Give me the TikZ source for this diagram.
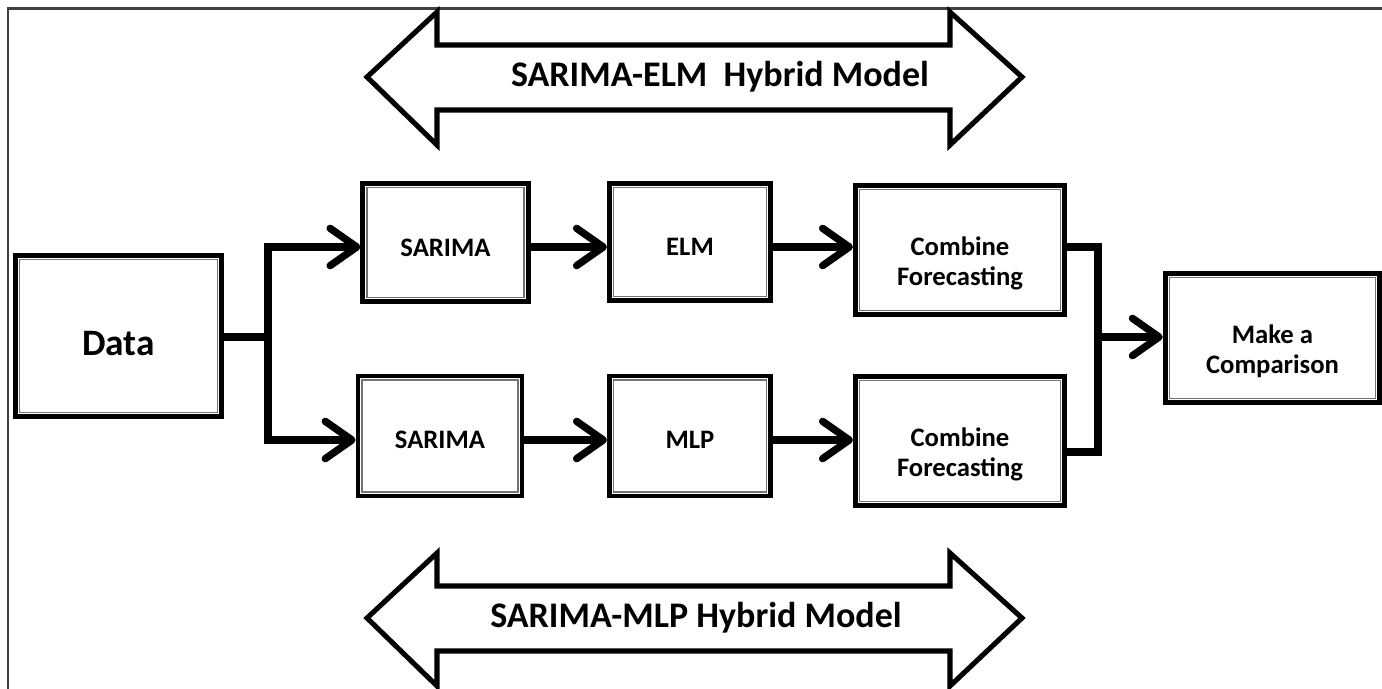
\documentclass[tikz,border=0pt]{standalone}
\usepackage{fontspec}
\setmainfont{Carlito}
\usetikzlibrary{arrows.meta}
\begin{document}
\begin{tikzpicture}[x=0.75pt,y=-0.75pt,
  box/.style={draw, line width=3.6pt, inner sep=0pt},
  lbl/.style={align=center, inner sep=0pt, font=\bfseries\fontsize{20}{23}\selectfont},
  conn/.style={line width=5.5pt, line cap=rect, miter limit=10},
  arr/.style={conn, -{Straight Barb[length=20pt,width=28pt,round]}},
  hyb/.style={line width=3.8pt, line join=miter, miter limit=10},
  hybtxt/.style={font=\bfseries\fontsize{27}{30}\selectfont},
  inner/.style={line width=1pt, draw=black!55}]
\useasboundingbox (0,0) rectangle (1382,689);
% frame
\draw[line width=1.6pt, draw=black!75] (8,689) -- (8,8.5) -- (1382,8.5);

% boxes
\node[box, minimum width=155pt, minimum height=121pt] (data) at (118.5,336) {};
\node[box, minimum width=124pt, minimum height=89pt] (s1) at (445.5,242.5) {};
\node[box, minimum width=121pt, minimum height=88pt] (elm) at (690,242) {};
\node[box, minimum width=157pt, minimum height=97pt] (c1) at (960,250) {};
\node[box, minimum width=123pt, minimum height=90pt] (s2) at (440,436) {};
\node[box, minimum width=121pt, minimum height=90pt] (mlp) at (690,436) {};
\node[box, minimum width=157pt, minimum height=97pt] (c2) at (960,441) {};
\node[box, minimum width=161pt, minimum height=97pt] (cmp) at (1272.5,338) {};

\foreach \n in {data,s1,elm,c1,s2,mlp,c2,cmp}{
  \draw[inner] ([shift={(6.5,6.5)}]\n.north west) rectangle ([shift={(-6.5,-6.5)}]\n.south east);
}

% labels
\node[lbl, font=\bfseries\fontsize{28}{32}\selectfont] (data-t) at ([yshift=-6pt]data.center) {Data};
\node[lbl] (s1-t) at ([yshift=-4pt]s1.center) {SARIMA};
\node[lbl] (elm-t) at ([yshift=-4pt]elm.center) {ELM};
\node[lbl] (c1-t) at ([yshift=-10pt]c1.center) {Combine\\Forecasting};
\node[lbl] (s2-t) at ([yshift=-3pt]s2.center) {SARIMA};
\node[lbl] (mlp-t) at ([yshift=-3pt]mlp.center) {MLP};
\node[lbl] (c2-t) at ([yshift=-10pt]c2.center) {Combine\\Forecasting};
\node[lbl] (cmp-t) at ([yshift=-10pt]cmp.center) {Make a\\Comparison};

% rows
\coordinate (r1) at (0,247);
\coordinate (r2) at (0,440);
\coordinate (r3) at (0,452);
\coordinate (jL) at (268,337);
\coordinate (jR) at (1098,337);

\draw[conn] (data.east |- jL) -- (jL);
\draw[arr] (jL |- r2) -- (jL |- r1) -- (s1.west |- r1);
\draw[arr] (jL |- r2) -- (s2.west |- r2);
\draw[arr] (s1.east |- r1) -- (elm.west |- r1);
\draw[arr] (elm.east |- r1) -- (c1.west |- r1);
\draw[arr] (s2.east |- r2) -- (mlp.west |- r2);
\draw[arr] (mlp.east |- r2) -- (c2.west |- r2);
\draw[conn, line cap=butt] (c1.east |- r1) -| (jR |- r3) -- (c2.east |- r3);
\draw[arr] (jR) -- (cmp.west |- jR);

% hybrid double arrows
\draw[hyb] (367,77) -- (437,12) -- (437,45) -- (950,45) -- (950,12) -- (1022,77)
  -- (950,145) -- (950,110) -- (437,110) -- (437,145) -- cycle;
\node[hybtxt] (h1) at (720,77) {SARIMA-ELM\ \ Hybrid Model};
\draw[hyb] (367,618) -- (437,553) -- (437,586) -- (950,586) -- (950,553) -- (1022,618)
  -- (950,686) -- (950,651) -- (437,651) -- (437,686) -- cycle;
\node[hybtxt] (h2) at (696,618) {SARIMA-MLP Hybrid Model};
\end{tikzpicture}
\end{document}
